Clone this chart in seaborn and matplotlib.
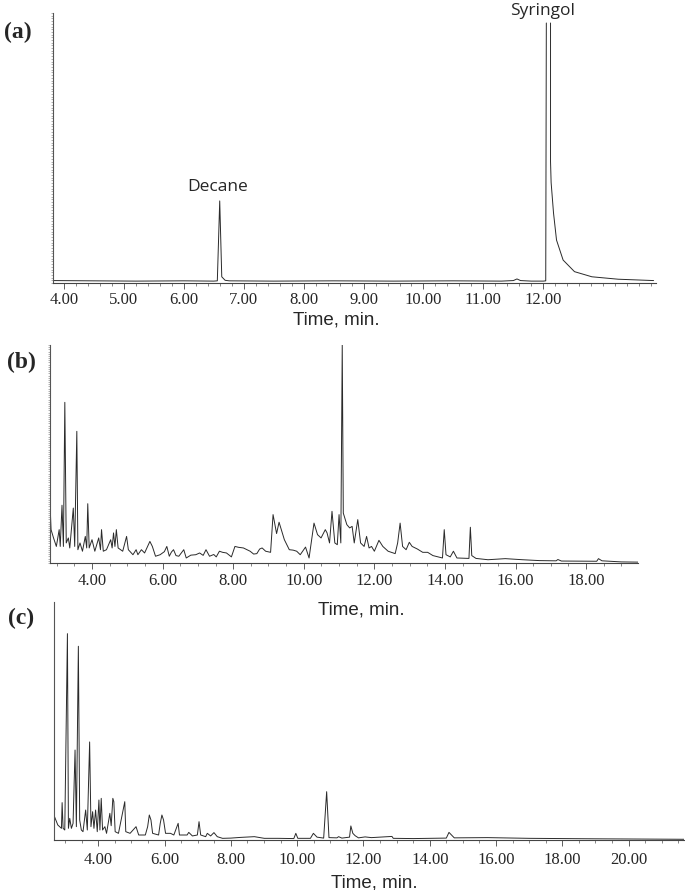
import numpy as np
import pandas as pd
import matplotlib
matplotlib.use("Agg")
import matplotlib.pyplot as plt
from matplotlib.ticker import MultipleLocator
import seaborn as sns

# ---- data (time in min, intensity in % of axis height) ----
# (a) standard mix: decane + syringol, the syringol peak is saturated (two trace segments)
time_a = [3.82, 4.5, 5.2, 6.0, 6.5, 6.56, 6.60, 6.634, 6.69, 6.76, 7.5, 8.5, 9.5, 10.5,
          11.3, 11.5, 11.56, 11.62, 11.8, 12.0, 12.04, 12.05,
          12.12, 12.12, 12.13, 12.17, 12.22, 12.33, 12.52, 12.81, 13.25, 13.84]
inten_a = [0.9, 0.8, 0.7, 0.8, 0.7, 0.8, 30.4, 2.3, 1.0, 0.8, 0.7, 0.8, 0.7, 0.8,
           0.7, 0.9, 1.5, 0.9, 0.7, 0.7, 0.8, 96.3,
           96.3, 45.0, 37.2, 25.9, 15.9, 8.5, 4.2, 2.3, 1.4, 0.9]
seg_a = [0] * 22 + [1] * 10

time_b = [2.81, 2.84, 2.91, 2.99, 3.07, 3.10, 3.15, 3.19, 3.23, 3.27, 3.33, 3.37, 3.47, 3.51,
          3.57, 3.60, 3.66, 3.73, 3.81, 3.85, 3.88, 3.92, 4.00, 4.08, 4.19, 4.24, 4.27, 4.32,
          4.41, 4.53, 4.57, 4.61, 4.65, 4.69, 4.74, 4.87, 4.98, 5.03, 5.16, 5.25, 5.30, 5.40,
          5.49, 5.64, 5.71, 5.80, 5.93, 6.05, 6.12, 6.19, 6.25, 6.31, 6.38, 6.46, 6.60, 6.67,
          6.80, 6.94, 7.05, 7.15, 7.23, 7.33, 7.45, 7.52, 7.61, 7.70, 7.81, 7.95, 8.05, 8.15,
          8.29, 8.40, 8.48, 8.58, 8.67, 8.75, 8.82, 8.92, 9.06, 9.13, 9.23, 9.30,
          9.45, 9.59, 9.70, 9.80, 9.90, 10.05, 10.15, 10.29, 10.39, 10.49, 10.61, 10.66, 10.73,
          10.80, 10.88, 10.95, 11.00, 11.05, 11.09, 11.12, 11.22, 11.30, 11.37, 11.43, 11.53,
          11.61, 11.71, 11.78, 11.85, 11.92, 12.00, 12.13, 12.24, 12.39, 12.59, 12.66, 12.73,
          12.80, 12.90, 12.99, 13.07, 13.22, 13.37, 13.51, 13.66, 13.93, 13.98, 14.03, 14.15,
          14.24, 14.34, 14.68, 14.72, 14.76, 14.88, 15.22, 15.71, 16.20, 16.68, 17.15, 17.20,
          17.30, 18.30, 18.35, 18.45, 19.00, 19.47]
inten_b = [27.5, 15.3, 11.5, 7.6, 15.3, 7.6, 26.5, 7.6, 73.7, 9.2, 11.5, 6.9, 25.2, 7.6,
           60.4, 6.1, 9.2, 5.4, 12.2, 6.9, 27.2, 6.9, 10.7, 5.4, 11.5, 6.1, 15.3, 5.4,
           6.1, 10.7, 6.9, 13.8, 7.6, 15.3, 6.9, 5.4, 12.2, 6.1, 3.8, 6.1, 3.8, 6.1,
           4.6, 9.9, 7.6, 3.1, 3.8, 5.2, 7.6, 3.1, 5.0, 6.1, 3.4, 3.1, 6.1, 2.3,
           3.6, 3.8, 4.6, 3.5, 6.1, 3.1, 3.9, 2.8, 5.4, 4.9, 4.6, 2.8, 7.6, 7.2,
           6.9, 6.0, 5.4, 4.1, 4.3, 6.4, 6.9, 5.4, 4.9, 22.2, 13.5, 18.7,
           10.7, 6.1, 5.9, 5.4, 3.8, 7.3, 2.3, 18.3, 13.0, 11.5, 15.3, 13.8, 9.2,
           23.7, 9.2, 8.4, 22.2, 9.2, 100.0, 22.9, 17.6, 16.1, 16.8, 9.2, 19.9,
           9.2, 7.6, 12.2, 6.9, 7.6, 5.4, 10.4, 7.6, 5.4, 4.3, 9.2, 18.3,
           7.6, 6.1, 9.5, 7.6, 6.4, 4.9, 4.9, 3.4, 2.3, 15.3, 3.8, 2.8,
           5.4, 2.3, 2.1, 16.4, 3.4, 2.1, 1.5, 2.0, 1.5, 1.1, 1.0, 1.6,
           0.9, 0.8, 2.0, 1.0, 0.5, 0.4]

time_c = [2.65, 2.68, 2.78, 2.89, 2.91, 2.94, 2.99, 3.07, 3.10, 3.14, 3.19, 3.24, 3.30, 3.34,
          3.40, 3.44, 3.49, 3.54, 3.62, 3.67, 3.74, 3.78, 3.83, 3.87, 3.92, 3.97, 4.02, 4.05,
          4.09, 4.13, 4.20, 4.25, 4.35, 4.39, 4.44, 4.47, 4.51, 4.61, 4.80, 4.83, 4.96, 5.14,
          5.22, 5.42, 5.49, 5.54, 5.59, 5.64, 5.82, 5.87, 5.92, 5.97, 6.03, 6.18, 6.28, 6.41,
          6.45, 6.68, 6.73, 6.84, 6.99, 7.04, 7.09, 7.24, 7.29, 7.39, 7.49, 7.59, 7.75, 8.00,
          8.30, 8.71, 9.01, 9.42, 9.90, 9.96, 10.02, 10.40, 10.49, 10.60, 10.80, 10.89, 10.96,
          11.20, 11.25, 11.35, 11.58, 11.62, 11.68, 11.75, 11.85, 12.05, 12.24, 12.86, 12.90,
          13.50, 14.50, 14.58, 14.74, 15.74, 17.00, 19.00, 21.67]
inten_c = [12.6, 9.8, 6.3, 4.9, 15.7, 4.9, 4.2, 86.7, 4.9, 9.1, 4.9, 7.0, 37.8, 5.6,
           81.4, 8.4, 4.2, 3.5, 12.6, 4.2, 41.2, 5.6, 11.9, 4.9, 12.6, 3.5, 16.8, 4.2,
           17.5, 4.2, 5.6, 2.8, 11.2, 6.0, 17.5, 16.1, 3.5, 2.8, 16.1, 3.5, 2.8, 5.6,
           2.1, 2.1, 5.6, 10.5, 8.4, 2.8, 2.1, 7.0, 10.5, 8.4, 2.8, 2.8, 2.1, 7.0,
           2.1, 2.1, 3.2, 1.7, 2.1, 7.7, 2.1, 1.4, 2.8, 1.7, 3.1, 1.4, 0.7, 0.8,
           1.1, 1.4, 0.7, 0.7, 0.6, 2.8, 0.7, 0.7, 2.8, 1.2, 0.8, 20.3, 1.0,
           0.9, 1.4, 0.8, 1.2, 5.9, 2.8, 1.8, 0.9, 1.3, 1.0, 1.5, 0.7,
           0.6, 0.8, 3.2, 0.9, 1.0, 0.7, 0.5, 0.3]

ticks_a = [4, 5, 6, 7, 8, 9, 10, 11, 12]
labels_a = ["4.00", "5.00", "6.00", "7.00", "8.00", "9.00", "10.00", "11.00", "12.00"]
ticks_b = [4, 6, 8, 10, 12, 14, 16, 18]
labels_b = ["4.00", "6.00", "8.00", "10.00", "12.00", "14.00", "16.00", "18.00"]
ticks_c = [4, 6, 8, 10, 12, 14, 16, 18, 20]
labels_c = ["4.00", "6.00", "8.00", "10.00", "12.00", "14.00", "16.00", "18.00", "20.00"]

df_a = pd.DataFrame({"time": time_a, "intensity": inten_a, "seg": seg_a})
df_b = pd.DataFrame({"time": time_b, "intensity": inten_b})
df_c = pd.DataFrame({"time": time_c, "intensity": inten_c})

sns.set_style("white")
plt.rcParams["font.family"] = ["Liberation Serif", "DejaVu Serif"]

W, H = 685, 890
fig = plt.figure(figsize=(W / 100, H / 100), dpi=100)


def add_ax(left, right, top, bottom):
    return fig.add_axes([left / W, 1 - bottom / H, (right - left) / W, (bottom - top) / H])


ax_a = add_ax(53, 656, 13, 283)
ax_b = add_ax(50, 638, 345, 563)
ax_c = add_ax(53.5, 684, 602, 840)

line_kw = dict(color="#2a2a2a", linewidth=0.7, sort=False, estimator=None)
sns.lineplot(data=df_a, x="time", y="intensity", units="seg", ax=ax_a, **line_kw)
sns.lineplot(data=df_b, x="time", y="intensity", ax=ax_b, **line_kw)
sns.lineplot(data=df_c, x="time", y="intensity", ax=ax_c, **line_kw)

setup = [
    (ax_a, (3.818, 13.88), ticks_a, labels_a, 0.2, True, 2.5),
    (ax_b, (2.81, 19.47), ticks_b, labels_b, 0.5, True, 3.2),
    (ax_c, (2.65, 21.67), ticks_c, labels_c, 0.5, False, 4.5),
]
for ax, xlim, ticks, labels, minor, yticks, pad in setup:
    ax.set_xlim(*xlim)
    ax.set_ylim(0, 100)
    ax.set_xlabel("")
    ax.set_ylabel("")
    for s in ["top", "right"]:
        ax.spines[s].set_visible(False)
    ax.spines["left"].set_color("#555555")
    ax.spines["left"].set_linewidth(0.8)
    ax.spines["bottom"].set_color("#444444")
    ax.spines["bottom"].set_linewidth(0.8)
    ax.set_xticks(ticks)
    ax.set_xticklabels(labels, fontsize=12)
    ax.xaxis.set_minor_locator(MultipleLocator(minor))
    ax.tick_params(axis="x", which="major", direction="out", length=4, width=0.6,
                   color="#444444", pad=pad, bottom=True)
    ax.tick_params(axis="x", which="minor", direction="out", length=2.5, width=0.5,
                   color="#555555", bottom=True)
    ax.set_yticks([])
    if yticks:
        ax.yaxis.set_minor_locator(MultipleLocator(1))
        ax.tick_params(axis="y", which="minor", direction="out", length=1.5, width=0.4,
                       color="#777777", left=True)

# peak labels on (a)
ax_a.text(6.56, 32.5, "Decane", ha="center", va="bottom", fontsize=12.5, family="Open Sans")
fig.text(543 / W, 1 - 11 / H, "Syringol", ha="center", va="center", fontsize=12.5,
         family="Open Sans")

# panel letters and axis titles
for txt, x, y in [("(a)", 17.5, 32), ("(b)", 21.5, 362), ("(c)", 21.5, 618)]:
    fig.text(x / W, 1 - y / H, txt, ha="center", va="center", fontsize=17,
             fontweight="bold", family="Liberation Serif")
for x, y in [(336, 320), (361, 610), (374, 883)]:
    fig.text(x / W, 1 - y / H, "Time, min.", ha="center", va="center", fontsize=13.5,
             family="Liberation Sans")

fig.savefig("out.png", dpi=100)
